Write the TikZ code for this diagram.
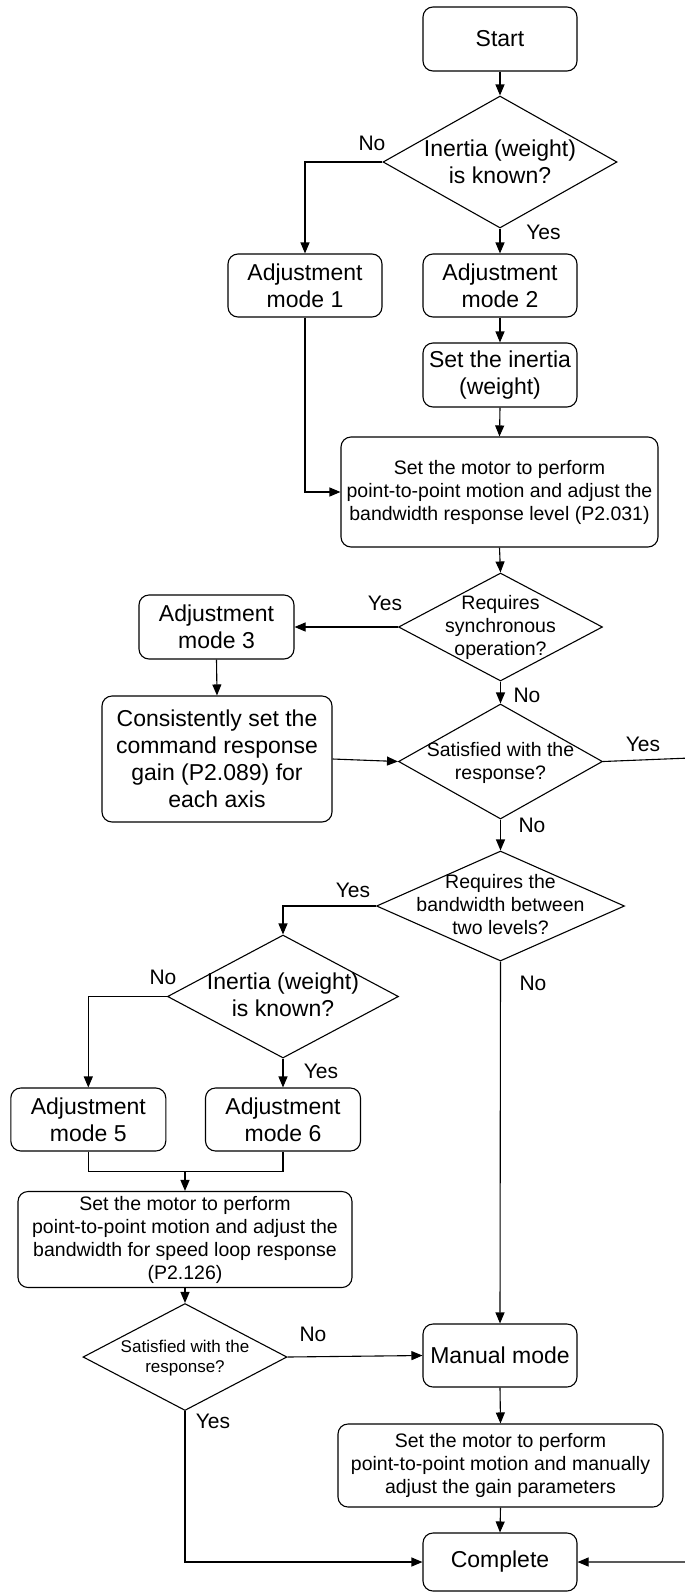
\documentclass[tikz,border=0pt]{standalone}
\usepackage{fontspec}
\setmainfont{Liberation Sans}
\usetikzlibrary{shapes.geometric,arrows.meta}
\newcommand\fsA{\fontsize{23}{27}\selectfont}
\newcommand\fsB{\fontsize{19.5}{23}\selectfont}
\newcommand\fsC{\fontsize{17}{20.5}\selectfont}
\newcommand\fsL{\fontsize{21}{25}\selectfont}
\tikzset{
  box/.style={draw, rounded corners=10pt, line width=1.1pt, align=center, inner sep=2pt, font=\fsA},
  dec/.style={draw, diamond, line width=1.1pt, inner sep=0pt},
  dtext/.style={align=center, inner sep=0pt},
  lbl/.style={font=\fsL, inner sep=0pt},
  arr/.style={-{Triangle[length=11pt,width=9pt]}, line width=1.1pt},
  ln/.style={line width=1.1pt}
}
\begin{document}
\begin{tikzpicture}[x=1pt,y=-1pt]
\useasboundingbox (0,0) rectangle (685,1593);
\fill[white] (0,0) rectangle (685,1593);
% boxes
\node[box, minimum width=154pt, minimum height=64pt] (start) at (500,39) {Start};
\node[dec, minimum width=234pt, minimum height=132pt] (d1) at (500,162) {};
\node[dtext, font=\fsA] (t1) at (d1) {Inertia (weight)\\is known?};
\node[box, minimum width=154pt, minimum height=63pt] (m1) at (305,285.5) {Adjustment\\mode 1};
\node[box, minimum width=154pt, minimum height=63pt] (m2) at (500,285.5) {Adjustment\\mode 2};
\node[box, minimum width=154pt, minimum height=64pt] (si) at (500,375) {Set the inertia\\(weight)};
\node[box, font=\fsB, minimum width=317pt, minimum height=110pt] (b1) at (499.5,492) {Set the motor to perform\\point-to-point motion and adjust the\\bandwidth response level (P2.031)};
\node[dec, minimum width=204pt, minimum height=108pt] (d2) at (500.5,627) {};
\node[dtext, font=\fsB] (t2) at (d2) {Requires\\synchronous\\operation?};
\node[box, minimum width=155pt, minimum height=64pt] (m3) at (216.5,627) {Adjustment\\mode 3};
\node[box, minimum width=230pt, minimum height=126pt] (cs) at (217,759) {Consistently set the\\command response\\gain (P2.089) for\\each axis};
\node[dec, minimum width=204pt, minimum height=115pt] (d3) at (500.5,761.5) {};
\node[dtext, font=\fsB] (t3) at ([yshift=-1pt]d3) {Satisfied with the\\response?};
\node[dec, minimum width=248pt, minimum height=110pt] (d4) at (500.5,906) {};
\node[dtext, font=\fsB] (t4) at ([yshift=1pt]d4) {Requires the\\bandwidth between\\two levels?};
\node[dec, minimum width=231pt, minimum height=123pt] (d5) at (283,996.5) {};
\node[dtext, font=\fsA] (t5) at ([yshift=2pt]d5) {Inertia (weight)\\is known?};
\node[box, minimum width=155pt, minimum height=63pt] (m5) at (88.3,1119.5) {Adjustment\\mode 5};
\node[box, minimum width=155pt, minimum height=63pt] (m6) at (283,1119.5) {Adjustment\\mode 6};
\node[box, font=\fsB, minimum width=334pt, minimum height=96pt] (b2) at (185,1239.5) {Set the motor to perform\\point-to-point motion and adjust the\\bandwidth for speed loop response\\(P2.126)};
\node[dec, minimum width=204pt, minimum height=107pt] (d6) at (185,1357) {};
\node[dtext, font=\fsC] (t6) at ([yshift=-1pt]d6) {Satisfied with the\\response?};
\node[box, minimum width=154pt, minimum height=63pt] (man) at (500,1355.5) {Manual mode};
\node[box, font=\fsB, minimum width=325pt, minimum height=83pt] (b3) at (500.5,1465.5) {Set the motor to perform\\point-to-point motion and manually\\adjust the gain parameters};
\node[box, minimum width=154pt, minimum height=58pt] (done) at (500,1562) {Complete};
% coordinates
\coordinate (j) at (185,1171.7);
\coordinate (r1) at (690,758);
% connectors
\draw[arr] (start.south) -- (d1.north);
\draw[arr] (d1.west) -| (m1.north);
\draw[arr] (d1.south) -- (m2.north);
\draw[arr] (m2.south) -- (si.north);
\draw[arr] (si.south) -- (b1.north);
\draw[arr] (m1.south) |- (b1.west);
\draw[arr] (b1.south) -- (d2.north);
\draw[arr] (d2.west) -- (m3.east);
\draw[arr] (m3.south) -- (cs.north);
\draw[arr] (d2.south) -- (d3.north);
\draw[arr] (cs.east) -- (d3.west);
\draw[arr] (d3.east) -- (r1) |- (done.east);
\draw[arr] (d3.south) -- (d4.north);
\draw[arr] (d4.west) -| (d5.north);
\draw[arr] (d4.south) -- (man.north);
\draw[arr] (d5.west) -| (m5.north);
\draw[arr] (d5.south) -- (m6.north);
\draw[ln] (m5.south) |- (j) -| (m6.south);
\draw[arr] (j) -- (b2.north);
\draw[arr] (b2.south) -- (d6.north);
\draw[arr] (d6.east) -- (man.west);
\draw[arr] (d6.south) |- (done.west);
\draw[arr] (man.south) -- (b3.north);
\draw[arr] (b3.south) -- (done.north);
% labels
\node[lbl] (l1) at (372,143) {No};
\node[lbl] (l2) at (543.5,232.5) {Yes};
\node[lbl] (l3) at (385,603) {Yes};
\node[lbl] (l4) at (527,695) {No};
\node[lbl] (l5) at (643,744.5) {Yes};
\node[lbl] (l6) at (532,825) {No};
\node[lbl] (l7) at (353,890) {Yes};
\node[lbl] (l8) at (533,983) {No};
\node[lbl] (l9) at (163,977.5) {No};
\node[lbl] (l10) at (321,1071) {Yes};
\node[lbl] (l11) at (313,1334) {No};
\node[lbl] (l12) at (213,1421.5) {Yes};
\end{tikzpicture}
\end{document}
